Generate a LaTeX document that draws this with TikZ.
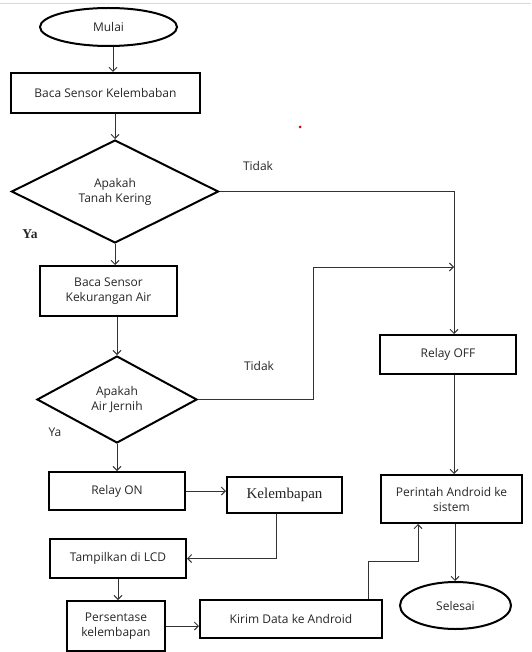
\documentclass[tikz,border=0pt]{standalone}
\usepackage{fontspec}
\setmainfont{Open Sans}
\newfontfamily\timesfont{Liberation Serif}
\usetikzlibrary{shapes.geometric,arrows.meta}
\tikzset{
  procbox/.style={draw, line width=2pt, rectangle, align=center, inner sep=1pt},
  termbox/.style={draw, line width=2pt, ellipse, inner sep=0pt},
  decisionbox/.style={draw, line width=2pt, diamond, aspect=2, inner sep=0pt, align=center},
  lbl/.style={inner sep=0pt},
  flow/.style={line width=1pt, draw=black!80}
}
\begin{document}
\begin{tikzpicture}[x=1pt, y=-1pt, >={Straight Barb[length=4pt,width=8pt]},
  font=\fontsize{12}{15}\selectfont, text=black!85]
\useasboundingbox (0,0) rectangle (531,652);
\draw[black!15, line width=1pt] (0,4) -- (531,4);
\fill[red!85!black] (300,127) circle (1.5);
% boxes
\node[termbox, minimum width=137pt, minimum height=38pt] (mulai) at (108.5,27) {Mulai};
\node[procbox, minimum width=189pt, minimum height=40pt] (baca1) at (105.5,93) {Baca Sensor Kelembaban};
\node[decisionbox, minimum width=207pt, minimum height=103pt] (d1) at (115,191.5) {Apakah\\Tanah Kering};
\node[procbox, minimum width=137pt, minimum height=50pt] (baca2) at (108.5,291) {Baca Sensor\\Kekurangan Air};
\node[decisionbox, minimum width=160pt, minimum height=87pt] (d2) at (117,399.5) {Apakah\\Air Jernih};
\node[procbox, minimum width=136pt, minimum height=39pt] (relayoff) at (448,354.5) {Relay OFF};
\node[procbox, minimum width=136pt, minimum height=38pt] (relayon) at (117,491) {Relay ON};
\node[procbox, minimum width=115pt, minimum height=36pt, font=\timesfont\fontsize{15}{17}\selectfont] (kelembapan) at (284.5,495) {Kelembapan};
\node[procbox, minimum width=136pt, minimum height=39pt] (lcd) at (118,558.5) {Tampilkan di LCD};
\node[procbox, minimum width=98pt, minimum height=50pt] (persen) at (116,626) {Persentase\\kelembapan};
\node[procbox, minimum width=182pt, minimum height=38pt] (kirim) at (291,619) {Kirim Data ke Android};
\node[procbox, minimum width=141pt, minimum height=48pt] (perintah) at (451.5,499) {Perintah Android ke\\sistem};
\node[termbox, minimum width=111pt, minimum height=47pt] (selesai) at (455.5,605.5) {Selesai};
% labels
\node[lbl] (tidak1) at (258,166) {Tidak};
\node[lbl] (tidak2) at (259,366) {Tidak};
\node[lbl, font=\timesfont\bfseries\fontsize{13.5}{15}\selectfont] (ya1) at (30,234) {Ya};
\node[lbl] (ya2) at (55,432) {Ya};
\coordinate (merge) at (454,267);
% connectors
\draw[flow, ->] ([xshift=4.5pt]mulai.south) -- ([xshift=4.5pt]mulai.south |- baca1.north);
\draw[flow, ->] (d1.north |- baca1.south) -- (d1.north);
\draw[flow, ->] (d1.south) -- (d1.south |- baca2.north);
\draw[flow, ->] (d1.east) -| ([xshift=6pt]relayoff.north);
\draw[flow, ->] (d2.north |- baca2.south) -- (d2.north);
\draw[flow, ->] (d2.east) -- ++(115,0) |- (merge);
\draw[flow, ->] ([xshift=6pt]relayoff.south) -- ([xshift=6pt]relayoff.south |- perintah.north);
\draw[flow, ->] (d2.south) -- (d2.south |- relayon.north);
\draw[flow, ->] (relayon.east) -- (relayon.east -| kelembapan.west);
\draw[flow, ->] ([xshift=-8.5pt]kelembapan.south) |- (lcd.east);
\draw[flow, ->] (lcd.south) -- (lcd.south |- persen.north);
\draw[flow, ->] (persen.east) -- (persen.east -| kirim.west);
\draw[flow, ->] ([xshift=77pt]kirim.north) -- ++(0,-38) -| ([xshift=-33.5pt]perintah.south);
\draw[flow, ->] ([xshift=3.5pt]perintah.south) -- ([xshift=3.5pt]perintah.south |- selesai.north);
\end{tikzpicture}
\end{document}
